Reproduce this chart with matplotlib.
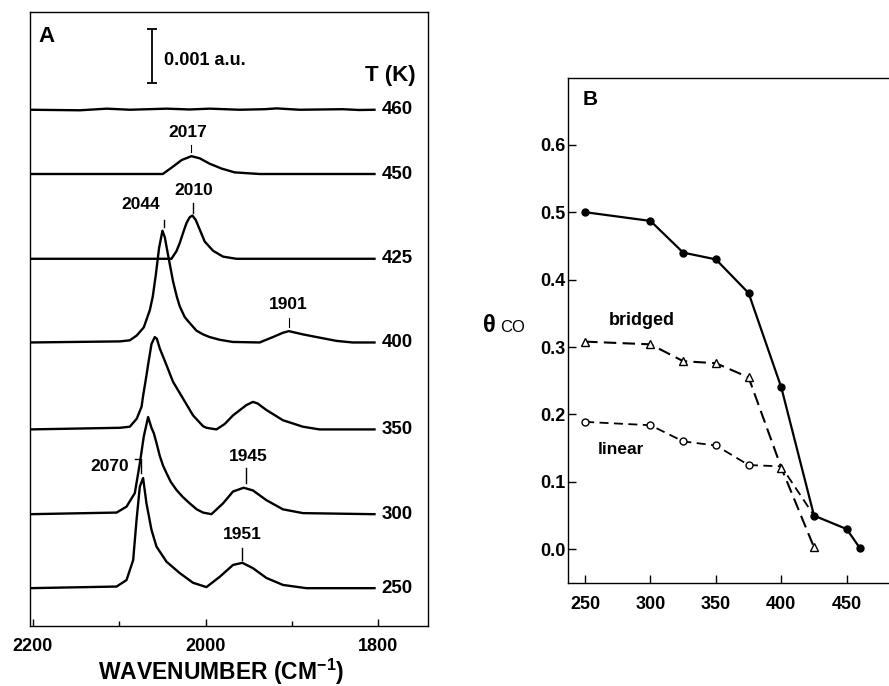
import matplotlib
matplotlib.use('Agg')
import matplotlib.pyplot as plt
from matplotlib.ticker import FormatStrFormatter

plt.rcParams['font.family'] = ['Liberation Sans', 'DejaVu Sans']
plt.rcParams['font.weight'] = 'bold'
plt.rcParams['mathtext.fontset'] = 'custom'
plt.rcParams['mathtext.rm'] = 'Liberation Sans:bold'
plt.rcParams['mathtext.bf'] = 'Liberation Sans:bold'

# ---- panel A : IR spectra (wavenumber cm-1, absorbance in 0.001 a.u.) ----
temps_a = [460, 450, 425, 400, 350, 300, 250]
offsets_a = [9.56, 8.37, 6.80, 5.25, 3.64, 2.07, 0.70]

wn_460 = [2204, 2145.7, 2114.4, 2087.9, 2045.1, 2018.5, 1995.4, 1960.7,
          1931.8, 1917.9, 1891.3, 1841.6, 1822, 1804.6]
ab_460 = [0, -0.01, 0.02, 0, 0.02, 0.005, 0.02, 0, 0.01, 0.025, 0, 0.01, -0.005, 0]

wn_450 = [2204, 2049.7, 2039.3, 2027.7, 2016.5, 2006.9, 1995.4, 1981.5,
          1966.5, 1937.6, 1804.6]
ab_450 = [0, 0, 0.12, 0.26, 0.33, 0.29, 0.19, 0.10, 0.03, 0, 0]

wn_425 = [2204, 2039.7, 2033.9, 2030.1, 2026.2, 2022.3, 2018.5, 2015.4, 2011.6,
          2006.9, 2001.2, 1991.6, 1980.0, 1964.5, 1804.6]
ab_425 = [0, 0, 0.14, 0.29, 0.48, 0.66, 0.77, 0.80, 0.72, 0.54, 0.32, 0.15, 0.04, 0, 0]

wn_400 = [2204, 2099.4, 2087.9, 2079.8, 2071.7, 2064.7, 2061.3, 2057.8, 2054.0,
          2050.1, 2047.4, 2045.1, 2041.6, 2037.8, 2033.5, 2030.1, 2024.3, 2018.5,
          2010.8, 2003.1, 1995.4, 1983.8, 1968.8, 1937.6, 1922.2, 1910.6, 1903.7,
          1887.5, 1868.2, 1848.9, 1830.1, 1804.6]
ab_400 = [0, 0.02, 0.04, 0.13, 0.28, 0.60, 0.85, 1.25, 1.75, 2.07, 1.95, 1.75,
          1.45, 1.13, 0.85, 0.67, 0.47, 0.36, 0.22, 0.15, 0.10, 0.05, 0.01, 0,
          0.10, 0.18, 0.21, 0.15, 0.09, 0.03, 0, 0]

wn_350 = [2204, 2099.4, 2087.9, 2079.8, 2074.3, 2072.5, 2068.6, 2066.7, 2062.8,
          2059.0, 2056.6, 2053.2, 2045.4, 2037.8, 2026.2, 2014.7, 2003.1, 1999.2,
          1987.6, 1978.0, 1968.4, 1953.0, 1945.3, 1939.9, 1929.8, 1910.6, 1887.5,
          1868.2, 1804.6]
ab_350 = [0, 0.03, 0.05, 0.20, 0.42, 0.62, 1.00, 1.20, 1.58, 1.71, 1.68, 1.50,
          1.19, 0.88, 0.57, 0.26, 0.06, 0.03, 0.0, 0.10, 0.26, 0.45, 0.51, 0.48,
          0.36, 0.17, 0.05, 0, 0]

wn_300 = [2204, 2103.2, 2091.7, 2082.1, 2076.3, 2071.7, 2066.7, 2062.8, 2060.1,
          2057.0, 2053.2, 2049.4, 2045.4, 2040.5, 2033.9, 2026.6, 2018.5, 2010.4,
          2003.1, 1993.4, 1980.0, 1968.4, 1956.1, 1945.3, 1929.8, 1910.6, 1887.5,
          1804.6]
ab_300 = [0, 0.03, 0.14, 0.39, 0.94, 1.44, 1.80, 1.60, 1.50, 1.32, 1.08, 0.90,
          0.76, 0.60, 0.45, 0.32, 0.20, 0.09, 0.03, 0, 0.20, 0.42, 0.49, 0.44,
          0.26, 0.09, 0.02, 0]

wn_250 = [2204, 2103.2, 2091.7, 2084.0, 2080.1, 2076.3, 2072.5, 2068.6, 2062.8,
          2057.0, 2045.4, 2030.1, 2014.7, 1999.2, 1983.8, 1968.4, 1957.6, 1945.3,
          1929.8, 1910.6, 1883.6, 1804.6]
ab_250 = [0, 0.03, 0.15, 0.52, 1.26, 1.88, 2.04, 1.57, 1.08, 0.77, 0.49, 0.28,
          0.10, 0.02, 0.21, 0.43, 0.47, 0.37, 0.19, 0.06, 0, 0]

spectra_wn = [wn_460, wn_450, wn_425, wn_400, wn_350, wn_300, wn_250]
spectra_ab = [ab_460, ab_450, ab_425, ab_400, ab_350, ab_300, ab_250]

# ---- panel B : coverage vs temperature ----
t_total = [250, 300, 325, 350, 375, 400, 425, 450, 460]
theta_total = [0.50, 0.487, 0.44, 0.43, 0.38, 0.24, 0.05, 0.03, 0.002]
t_bridged = [250, 300, 325, 350, 375, 400, 425]
theta_bridged = [0.308, 0.304, 0.279, 0.276, 0.255, 0.121, 0.003]
t_linear = [250, 300, 325, 350, 375, 400, 425]
theta_linear = [0.189, 0.184, 0.160, 0.154, 0.125, 0.123, 0.05]

fig = plt.figure(figsize=(8.89, 6.86), dpi=100)

# panel A
axA = fig.add_axes([0.0332, 0.0875, 0.4479, 0.8950])
for wn, ab, off, T in zip(spectra_wn, spectra_ab, offsets_a, temps_a):
    axA.plot(wn, [a + off for a in ab], color='black', lw=1.7,
             solid_joinstyle='round')
    axA.text(1796.5, off, str(T), ha='left', va='center', fontsize=13.5)

axA.set_xlim(2204, 1743)
axA.set_ylim(0, 11.37)
axA.set_xticks([2200, 2000, 1800])
axA.set_xticks([2100, 1900], minor=True)
axA.set_yticks([])
axA.tick_params(axis='x', which='both', direction='in', labelsize=13, pad=8.5, width=1)
axA.tick_params(axis='x', which='major', length=5)
axA.tick_params(axis='x', which='minor', length=3.5)
for s in axA.spines.values():
    s.set_linewidth(1.0)

# scale bar
axA.errorbar([2062.4], [10.56], yerr=[0.5], color='black', lw=1.3, capsize=3.5, capthick=1.3)
axA.text(2048, 10.48, '0.001 a.u.', ha='left', va='center', fontsize=13)
axA.text(1816, 10.19, 'T (K)', ha='left', va='center', fontsize=16)
axA.text(2183.8, 10.91, 'A', ha='center', va='center', fontsize=16)

# peak annotations
axA.text(2020.8, 9.14, '2017', ha='center', va='center', fontsize=12.5)
axA.plot([2016.5, 2016.5], [8.91, 8.77], color='black', lw=0.8)
axA.text(2013.9, 8.06, '2010', ha='center', va='center', fontsize=12.5)
axA.plot([2014.7, 2014.7], [7.84, 7.64], color='black', lw=1.0)
axA.text(2074.9, 7.81, '2044', ha='center', va='center', fontsize=12.5)
axA.plot([2048.6, 2048.6], [7.52, 7.39], color='black', lw=1.0)
axA.text(1904.6, 5.95, '1901', ha='center', va='center', fontsize=12.5)
axA.plot([1903.7, 1903.7], [5.70, 5.54], color='black', lw=0.8)
axA.text(2111.3, 2.96, '2070', ha='center', va='center', fontsize=12.5)
axA.plot([2082.1, 2075.5, 2075.5], [3.09, 3.09, 2.83], color='black', lw=1.0)
axA.text(1951.1, 3.13, '1945', ha='center', va='center', fontsize=12.5)
axA.plot([1953.8, 1953.8], [2.92, 2.64], color='black', lw=1.0)
axA.text(1957.2, 1.70, '1951', ha='center', va='center', fontsize=12.5)
axA.plot([1957.6, 1957.6], [1.44, 1.22], color='black', lw=1.0)

fig.text(221 / 889, 0.0095, r'WAVENUMBER (CM$^{\mathbf{-1}}$)', ha='center',
         va='baseline', fontsize=16.5)

# panel B
axB = fig.add_axes([0.639, 0.1501, 0.362, 0.7362])
axB.plot(t_total, theta_total, color='black', lw=1.6, marker='o', ms=5,
         mfc='black', mec='black')
axB.plot(t_linear, theta_linear, color='black', lw=1.3, ls=(0, (5, 3)),
         marker='o', ms=5, mfc='white', mec='black', mew=1.0,
         markevery=[0, 1, 2, 3, 4])
axB.plot(t_bridged, theta_bridged, color='black', lw=1.5, ls=(0, (6, 3)),
         marker='^', ms=6, mfc='white', mec='black', mew=1.0)

axB.set_xlim(237, 483)
axB.set_ylim(-0.05, 0.699)
axB.set_xticks([250, 300, 350, 400, 450])
axB.set_yticks([0.0, 0.1, 0.2, 0.3, 0.4, 0.5, 0.6])
axB.yaxis.set_major_formatter(FormatStrFormatter('%.1f'))
axB.tick_params(axis='x', direction='in', length=6, width=1, labelsize=13, pad=9.5)
axB.tick_params(axis='y', direction='in', length=6, width=1, labelsize=13, pad=2)
axB.spines['right'].set_visible(False)
for s in axB.spines.values():
    s.set_linewidth(1.0)

axB.text(253.8, 0.667, 'B', ha='center', va='center', fontsize=15)
axB.text(293.3, 0.340, 'bridged', ha='center', va='center', fontsize=13)
axB.text(277.2, 0.148, 'linear', ha='center', va='center', fontsize=12.5)

fig.text(0.551, 0.5165, '\u03b8', ha='center', va='baseline', fontsize=17)
fig.text(0.5624, 0.5165, 'CO', ha='left', va='baseline', fontsize=12, fontweight='normal')

fig.savefig('out.png', dpi=100)
